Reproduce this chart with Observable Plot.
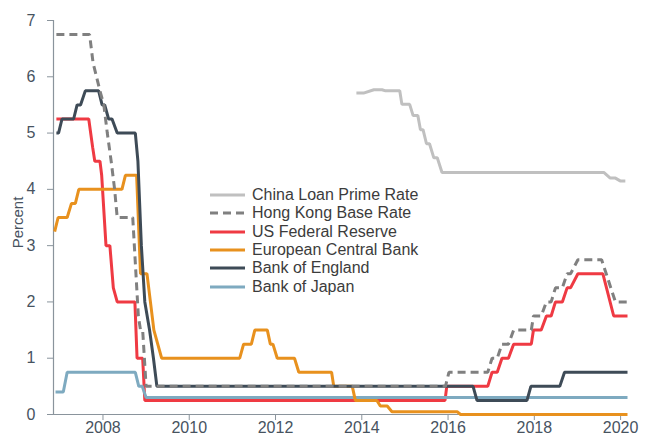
<!DOCTYPE html>
<html><head><meta charset="utf-8">
<script src="https://cdn.jsdelivr.net/npm/d3@7"></script>
<script src="https://cdn.jsdelivr.net/npm/@observablehq/plot@0.6"></script>
<style>
body{margin:0;background:#fff;font-family:"Liberation Sans",Arial,sans-serif;}
#wrap{position:relative;width:647px;height:436px;}
#legend{position:absolute;left:210px;top:186px;font-size:16px;color:#3c3c3c;}
.row{display:flex;align-items:center;height:18.3px;white-space:nowrap}
.row svg{margin-right:7px;display:block}
</style></head><body><div id="wrap"><div id="legend"></div></div>
<script>
// Legend order / names
const names = ["China Loan Prime Rate","Hong Kong Base Rate","US Federal Reserve","European Central Bank","Bank of England","Bank of Japan"];
const colors = ["#c0c0c0","#808080","#ef3a43","#e8911e","#3e4b57","#7eaac0"];
const dashes = [null,"8,5",null,null,null,null];

// [year, percent]
const china = [[2013.875,5.71],[2014.04,5.71],[2014.28,5.77],[2014.47,5.77],[2014.55,5.75],[2014.88,5.75],[2014.93,5.51],[2015.11,5.51],[2015.19,5.31],[2015.30,5.31],[2015.36,5.06],[2015.42,5.06],[2015.50,4.81],[2015.57,4.81],[2015.67,4.56],[2015.75,4.56],[2015.86,4.30],[2019.61,4.30],[2019.76,4.20],[2019.88,4.20],[2019.99,4.15],[2020.11,4.15]];
const hongKong = [[2006.92,6.75],[2007.69,6.75],[2007.77,6.25],[2007.85,6.0],[2007.93,5.75],[2008.02,5.5],[2008.10,5.0],[2008.19,4.5],[2008.27,4.0],[2008.33,3.5],[2008.69,3.5],[2008.82,1.75],[2008.87,1.5],[2008.92,1.5],[2009.0,0.5],[2015.94,0.5],[2016.02,0.75],[2016.92,0.75],[2017.02,1.0],[2017.14,1.0],[2017.25,1.25],[2017.40,1.25],[2017.52,1.5],[2017.93,1.5],[2017.98,1.75],[2018.16,1.75],[2018.28,2.0],[2018.39,2.0],[2018.49,2.25],[2018.65,2.25],[2018.76,2.5],[2018.84,2.5],[2019.01,2.75],[2019.56,2.75],[2019.88,2.0],[2020.16,2.0]];
const fed = [[2006.92,5.25],[2007.67,5.25],[2007.76,4.75],[2007.81,4.5],[2007.93,4.5],[2007.97,4.25],[2008.07,3.0],[2008.16,3.0],[2008.24,2.25],[2008.33,2.0],[2008.74,2.0],[2008.79,1.0],[2008.92,1.0],[2008.97,0.25],[2015.93,0.25],[2015.97,0.5],[2016.92,0.5],[2017.02,0.75],[2017.14,0.75],[2017.25,1.0],[2017.40,1.0],[2017.52,1.25],[2017.93,1.25],[2017.98,1.5],[2018.16,1.5],[2018.28,1.75],[2018.39,1.75],[2018.49,2.0],[2018.65,2.0],[2018.76,2.25],[2018.84,2.25],[2019.01,2.5],[2019.59,2.5],[2019.84,1.75],[2020.16,1.75]];
const ecb = [[2006.88,3.25],[2006.96,3.5],[2007.17,3.5],[2007.27,3.75],[2007.36,3.75],[2007.44,4.0],[2008.44,4.0],[2008.52,4.25],[2008.78,4.25],[2008.87,2.5],[2009.02,2.5],[2009.10,2.0],[2009.18,1.5],[2009.27,1.25],[2009.36,1.0],[2011.17,1.0],[2011.26,1.25],[2011.44,1.25],[2011.52,1.5],[2011.81,1.5],[2011.88,1.25],[2011.94,1.25],[2012.04,1.0],[2012.44,1.0],[2012.54,0.75],[2013.30,0.75],[2013.35,0.5],[2013.78,0.5],[2013.85,0.25],[2014.35,0.25],[2014.43,0.15],[2014.59,0.15],[2014.70,0.05],[2016.21,0.05],[2016.29,0.0],[2020.16,0.0]];
const boe = [[2006.92,5.0],[2006.97,5.0],[2007.05,5.25],[2007.32,5.25],[2007.40,5.5],[2007.48,5.5],[2007.59,5.75],[2007.90,5.75],[2007.98,5.5],[2008.04,5.5],[2008.13,5.25],[2008.21,5.25],[2008.33,5.0],[2008.75,5.0],[2008.81,4.5],[2008.89,3.0],[2008.97,2.0],[2009.08,1.5],[2009.17,1.0],[2009.25,0.5],[2016.58,0.5],[2016.67,0.25],[2017.83,0.25],[2017.92,0.5],[2018.59,0.5],[2018.70,0.75],[2020.16,0.75]];
const boj = [[2006.90,0.4],[2007.08,0.4],[2007.17,0.75],[2008.75,0.75],[2008.83,0.5],[2008.91,0.5],[2009.0,0.3],[2020.16,0.3]];

const xTicks = [2008,2010,2012,2014,2016,2018,2020];
const yTicks = [0,1,2,3,4,5,6,7];

const seriesData = [china, hongKong, fed, ecb, boe, boj];
// drawing order (back to front): China, Fed, BoJ, ECB, BoE, HK
const drawOrder = [0,2,5,3,4,1];

const axisColor = "#8a949c";
const textColor = "#47535f";

const lineMarks = drawOrder.map(i => Plot.line(seriesData[i], {
  x: d => d[0], y: d => d[1],
  stroke: colors[i], strokeWidth: 3, strokeDasharray: dashes[i] ?? undefined,
  strokeLinejoin: "miter", strokeLinecap: "butt"
}));

const chart = Plot.plot({
  width: 647, height: 436,
  marginLeft: 53, marginRight: 20, marginTop: 20, marginBottom: 22,
  style: {fontFamily: '"Liberation Sans", Arial, sans-serif', fontSize: "16px", color: textColor, background: "#fff"},
  x: {type: "linear", domain: [2006.853, 2020.16]},
  y: {domain: [0, 7]},
  marks: [
    Plot.axisX({ticks: xTicks, tickFormat: d => String(d), tickSize: 6, tickPadding: 1, stroke: axisColor, fill: textColor, fontSize: 16, label: null}),
    Plot.axisY({ticks: yTicks, tickFormat: d => String(d), tickSize: 6, tickPadding: 12, stroke: axisColor, fill: textColor, fontSize: 16, label: null}),
    Plot.ruleX([2006.853], {stroke: axisColor, strokeWidth: 1.2}),
    Plot.ruleY([0], {stroke: axisColor, strokeWidth: 1.2}),
    ...lineMarks,
    Plot.text(["Percent"], {frameAnchor: "left", textAnchor: "middle", rotate: -90, dx: -35, dy: 5, fill: textColor, fontSize: 15})
  ]
});
document.getElementById("wrap").prepend(chart);

const legend = document.getElementById("legend");
names.forEach((n, i) => {
  const row = document.createElement("div");
  row.className = "row";
  row.innerHTML = `<svg width="35" height="6"><line x1="0" x2="35" y1="3" y2="3" stroke="${colors[i]}" stroke-width="3" ${dashes[i] ? `stroke-dasharray="${dashes[i]}"` : ""}/></svg><span>${n}</span>`;
  legend.appendChild(row);
});
</script>
</body></html>
